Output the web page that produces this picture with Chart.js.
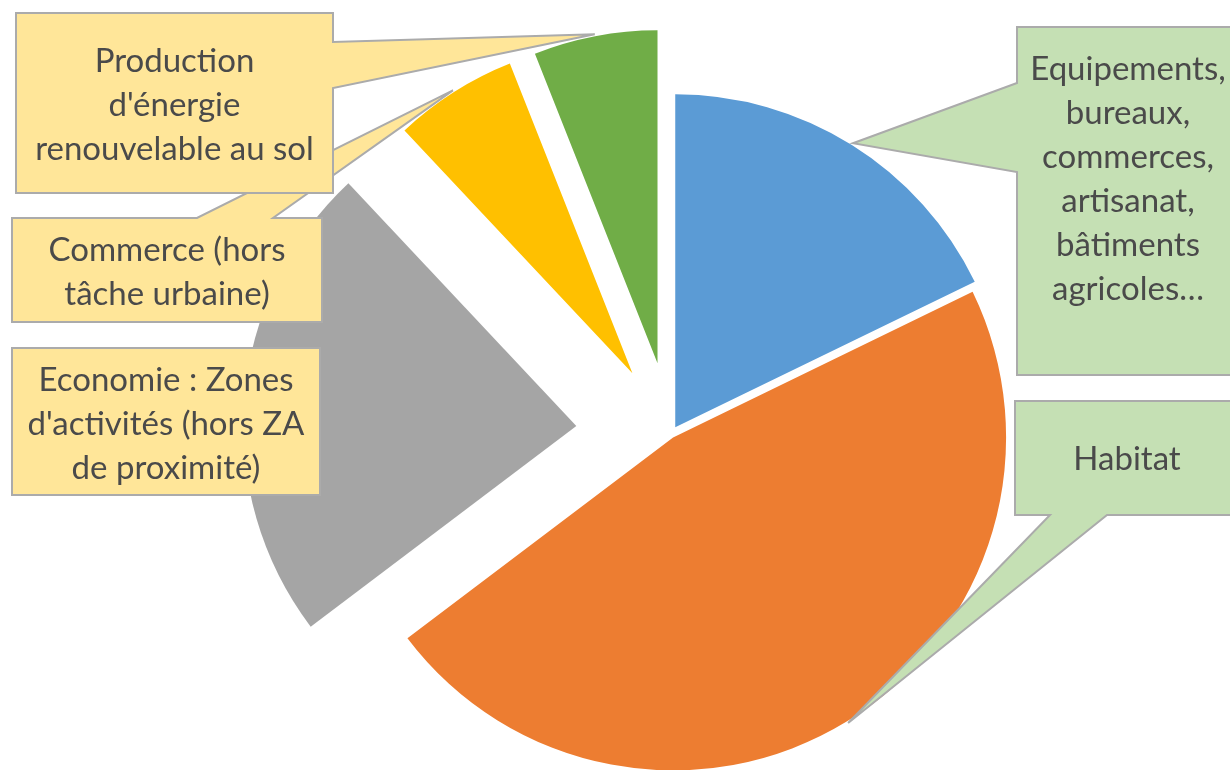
<!DOCTYPE html>
<html>
<head>
<meta charset="utf-8">
<script src="https://cdn.jsdelivr.net/npm/chart.js@4.4.0/dist/chart.umd.min.js"></script>
<style>
  html, body { margin: 0; padding: 0; background: #fff; }
  #chartBox { width: 1230px; height: 770px; }
</style>
</head>
<body>
<div id="chartBox"><canvas id="surfaceChart" width="1230" height="770"></canvas></div>
<script>
// data (shares in %)
const categories = [
  "Equipements, bureaux, commerces, artisanat, bâtiments agricoles…",
  "Habitat",
  "Economie : Zones d'activités (hors ZA de proximité)",
  "Commerce (hors tâche urbaine)",
  "Production d'énergie renouvelable au sol"
];
const shares = [17.8, 46.9, 23.3, 6.0, 6.0];
// label text as it wraps in the callouts
const labelLines = [
  ["Equipements,", "bureaux,", "commerces,", "artisanat,", "bâtiments", "agricoles…"],
  ["Habitat"],
  ["Economie : Zones", "d'activités (hors ZA", "de proximité)"],
  ["Commerce (hors", "tâche urbaine)"],
  ["Production", "d'énergie", "renouvelable au sol"]
];

// styles
const sliceColors = ["#5B9BD5", "#ED7D31", "#A5A5A5", "#FFC000", "#70AD47"];
const explodePx = [8, 4, 95, 72, 72];
const calloutFill = ["#C5E0B4", "#C5E0B4", "#FFE699", "#FFE699", "#FFE699"];
// callout boxes: [x, y, w, h], first text baseline, side of the pointer and where it leaves the box
const callouts = [
  { box: [1017, 27, 222, 348], base: 80, side: "left", from: 83, to: 172 },
  { box: [1015, 401, 224, 114], base: 470, side: "bottom", from: 1050, to: 1107 },
  { box: [12, 348, 308, 147], base: 391, side: null },
  { box: [12, 218, 310, 104], base: 261, side: "top", from: 197, to: 273 },
  { box: [16, 13, 317, 180], base: 72, side: "right", from: 42, to: 88 }
];
const drawOrder = [2, 3, 4, 0, 1];
const lineGap = 44;

// pull slices out of the pie (like Excel's point explosion)
const explodePlugin = {
  id: "explode",
  afterDatasetUpdate(chart, args) {
    const meta = chart.getDatasetMeta(args.index);
    meta.data.forEach((arc, i) => {
      const mid = (arc.startAngle + arc.endAngle) / 2;
      const d = explodePx[i] || 0;
      arc.x += Math.cos(mid) * d;
      arc.y += Math.sin(mid) * d;
    });
  }
};

// callout labels pointing at the middle of each slice's arc
const calloutPlugin = {
  id: "callouts",
  afterDatasetsDraw(chart) {
    const ctx = chart.ctx;
    const arcs = chart.getDatasetMeta(0).data;
    drawOrder.forEach(i => {
      const c = callouts[i];
      const arc = arcs[i];
      const mid = (arc.startAngle + arc.endAngle) / 2;
      const r = arc.outerRadius + 2;
      const tx = arc.x + Math.cos(mid) * r;
      const ty = arc.y + Math.sin(mid) * r;
      const [x, y, w, h] = c.box;

      ctx.save();
      ctx.beginPath();
      ctx.moveTo(x, y);
      if (c.side === "top") { ctx.lineTo(c.from, y); ctx.lineTo(tx, ty); ctx.lineTo(c.to, y); }
      ctx.lineTo(x + w, y);
      if (c.side === "right") { ctx.lineTo(x + w, c.from); ctx.lineTo(tx, ty); ctx.lineTo(x + w, c.to); }
      ctx.lineTo(x + w, y + h);
      if (c.side === "bottom") { ctx.lineTo(c.to, y + h); ctx.lineTo(tx, ty); ctx.lineTo(c.from, y + h); }
      ctx.lineTo(x, y + h);
      if (c.side === "left") { ctx.lineTo(x, c.to); ctx.lineTo(tx, ty); ctx.lineTo(x, c.from); }
      ctx.closePath();
      ctx.fillStyle = calloutFill[i];
      ctx.fill();
      ctx.lineWidth = 2;
      ctx.strokeStyle = "#ABABAB";
      ctx.stroke();

      ctx.fillStyle = "#4a4a4a";
      ctx.font = "33px Lato";
      ctx.textAlign = "center";
      ctx.textBaseline = "alphabetic";
      labelLines[i].forEach((line, k) => {
        ctx.fillText(line, x + w / 2, c.base + k * lineGap);
      });
      ctx.restore();
    });
  }
};

function drawChart() {
  const ctx = document.getElementById("surfaceChart").getContext("2d");
  new Chart(ctx, {
    type: "pie",
    data: {
      labels: categories,
      datasets: [{
        data: shares,
        backgroundColor: sliceColors,
        borderWidth: 0
      }]
    },
    options: {
      responsive: false,
      animation: false,
      radius: 333,
      layout: { padding: { left: 112, top: 98, right: 0, bottom: 0 } },
      plugins: {
        legend: { display: false },
        tooltip: { enabled: false }
      }
    },
    plugins: [explodePlugin, calloutPlugin]
  });
}

document.fonts.load("33px Lato").then(drawChart, drawChart);
</script>
</body>
</html>
